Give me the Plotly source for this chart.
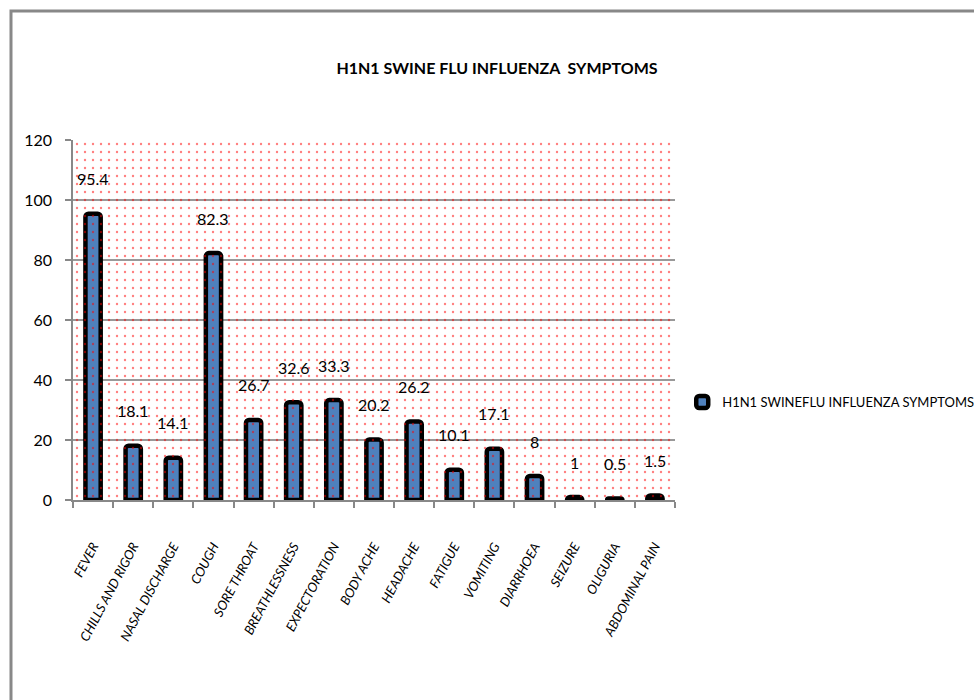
import plotly.graph_objects as go

categories = ["FEVER", "CHILLS AND RIGOR", "NASAL DISCHARGE", "COUGH", "SORE THROAT",
              "BREATHLESSNESS", "EXPECTORATION", "BODY ACHE", "HEADACHE", "FATIGUE",
              "VOMITING", "DIARRHOEA", "SEIZURE", "OLIGURIA", "ABDOMINAL PAIN"]
values = [95.4, 18.1, 14.1, 82.3, 26.7, 32.6, 33.3, 20.2, 26.2, 10.1, 17.1, 8, 1, 0.5, 1.5]
value_labels = ["95.4", "18.1", "14.1", "82.3", "26.7", "32.6", "33.3", "20.2", "26.2",
                "10.1", "17.1", "8", "1", "0.5", "1.5"]
y_ticks = [0, 20, 40, 60, 80, 100, 120]
series_name = "H1N1 SWINEFLU INFLUENZA SYMPTOMS"
title_text = "H1N1 SWINE FLU INFLUENZA  SYMPTOMS"

FONT = "Lato, Roboto, sans-serif"
n = len(categories)
xpos = list(range(n))
ymax = y_ticks[-1]

fig = go.Figure()

# dotted plot-area background
fig.add_trace(go.Scatter(
    x=[-0.5, n - 0.5, n - 0.5, -0.5, -0.5], y=[0, 0, ymax, ymax, 0],
    fill="toself", mode="lines", line=dict(width=0),
    fillcolor="rgba(0,0,0,0)",
    fillpattern=dict(shape=".", fgcolor="#ff0000", bgcolor="rgba(0,0,0,0)",
                     size=8, solidity=0.07),
    hoverinfo="skip", showlegend=False))

fig.add_trace(go.Bar(
    x=xpos, y=values, name=series_name, width=0.38,
    marker=dict(color="#4F81BD", line=dict(color="black", width=4.5), cornerradius=3),
    showlegend=True))

for xi, v, t in zip(xpos, values, value_labels):
    fig.add_annotation(x=xi, y=v, text=t, showarrow=False, yshift=35,
                       font=dict(family=FONT, size=16, color="black"))

# outer frame
fig.add_shape(type="rect", xref="paper", yref="paper",
              x0=-0.103, x1=2, y0=-1, y1=1.358,
              line=dict(color="#888888", width=3), fillcolor="rgba(0,0,0,0)")

fig.update_layout(
    width=974, height=700,
    margin=dict(l=73, r=299, t=140, b=200, autoexpand=False),
    paper_bgcolor="white", plot_bgcolor="white",
    title=dict(text=title_text, x=497 / 974, xref="container", xanchor="center",
               y=1 - 68 / 700, yanchor="middle",
               font=dict(family=FONT, size=16, color="black", weight="bold")),
    legend=dict(x=1.012, y=0.272, xanchor="left", yanchor="middle",
                font=dict(family=FONT, size=13, color="black"),
                bgcolor="rgba(0,0,0,0)", itemwidth=30),
    font=dict(family=FONT),
)

fig.update_xaxes(
    range=[-0.5, n - 0.5], tickmode="array", tickvals=xpos, ticktext=categories,
    tickangle=-62, ticks="", showgrid=False,
    tickfont=dict(family=FONT, size=13, color="black", style="italic"),
    ticklabelstandoff=32,
    showline=True, linecolor="#888888", linewidth=1.5,
    minor=dict(tickmode="linear", tick0=-0.5, dtick=1, ticks="outside",
               ticklen=6, tickcolor="#888888", tickwidth=1.5, showgrid=False),
    zeroline=False)

fig.update_yaxes(
    range=[0, ymax], tickmode="array", tickvals=y_ticks,
    ticks="outside", ticklen=6, tickcolor="#888888", tickwidth=1.5,
    showgrid=True, gridcolor="#999999", gridwidth=1.5,
    showline=True, linecolor="#888888", linewidth=1.5,
    tickfont=dict(family=FONT, size=16, color="black"),
    zeroline=False, ticklabelstandoff=10)

fig.write_html("out.html")
